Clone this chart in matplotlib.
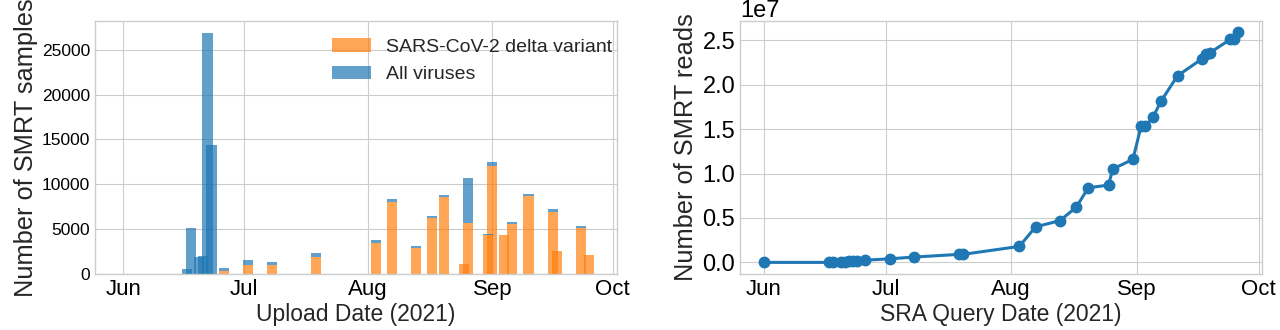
import pandas as pd
import matplotlib
matplotlib.use('Agg')
import matplotlib.pyplot as plt
import matplotlib.dates as mdates
from matplotlib.ticker import MultipleLocator

plt.style.use('seaborn-v0_8-whitegrid')
plt.rcParams['font.family'] = ['Liberation Sans', 'DejaVu Sans']

# Left panel: SMRT samples per upload date
upload_dates = ['2021-06-17', '2021-06-18', '2021-06-20', '2021-06-21', '2021-06-22',
                '2021-06-23', '2021-06-26', '2021-07-02', '2021-07-08', '2021-07-19',
                '2021-08-03', '2021-08-07', '2021-08-13', '2021-08-17', '2021-08-20',
                '2021-08-25', '2021-08-26', '2021-08-31', '2021-09-01', '2021-09-04',
                '2021-09-06', '2021-09-10', '2021-09-16', '2021-09-17', '2021-09-23',
                '2021-09-25']
delta_samples = [0, 0, 0, 0, 0,
                 0, 300, 950, 950, 1900,
                 3400, 8050, 2900, 6200, 8600,
                 1100, 5700, 4300, 12000, 4300,
                 5600, 8700, 6950, 2580, 5150,
                 2100]
all_samples = [600, 5100, 1900, 2050, 26900,
               14400, 700, 1550, 1350, 2300,
               3800, 8350, 3100, 6450, 8850,
               1100, 10700, 4450, 12500, 4350,
               5750, 8900, 7200, 2600, 5300,
               2100]

# Right panel: cumulative SMRT reads per SRA query date
query_dates = ['2021-06-01', '2021-06-17', '2021-06-18', '2021-06-20', '2021-06-21',
               '2021-06-22', '2021-06-23', '2021-06-24', '2021-06-26', '2021-07-02',
               '2021-07-08', '2021-07-19', '2021-07-20', '2021-08-03', '2021-08-07',
               '2021-08-13', '2021-08-17', '2021-08-20', '2021-08-25', '2021-08-26',
               '2021-08-31', '2021-09-02', '2021-09-03', '2021-09-05', '2021-09-07',
               '2021-09-11', '2021-09-17', '2021-09-18', '2021-09-19', '2021-09-24',
               '2021-09-25', '2021-09-26']
smrt_reads = [0.0, 0.0, 0.005, 0.01, 0.01,
              0.012, 0.013, 0.015, 0.025, 0.04,
              0.06, 0.09, 0.09, 0.18, 0.40,
              0.47, 0.62, 0.84, 0.87, 1.05,
              1.16, 1.53, 1.53, 1.64, 1.82,
              2.10, 2.29, 2.35, 2.36, 2.51,
              2.52, 2.59]
smrt_reads = [v * 1e7 for v in smrt_reads]

x_up = mdates.date2num(pd.to_datetime(upload_dates))
x_q = mdates.date2num(pd.to_datetime(query_dates))
others = [a - d for a, d in zip(all_samples, delta_samples)]

fig, (ax1, ax2) = plt.subplots(1, 2, figsize=(12.8, 3.3), dpi=100)
fig.subplots_adjust(left=0.0742, right=0.986, bottom=0.17, top=0.937, wspace=0.236)

ax1.bar(x_up, delta_samples, width=2.5, color='tab:orange', alpha=0.7,
        label='SARS-CoV-2 delta variant')
ax1.bar(x_up, others, width=2.5, bottom=delta_samples, color='tab:blue', alpha=0.7,
        label='All viruses')
ax1.set_xlim(mdates.date2num(pd.Timestamp('2021-05-24 23:00')),
             mdates.date2num(pd.Timestamp('2021-10-02 01:00')))
ax1.set_xlabel('Upload Date (2021)', fontsize=16.5, labelpad=2)
ax1.set_ylabel('Number of SMRT samples', fontsize=18.3, labelpad=3)
ax1.legend(loc='upper right', bbox_to_anchor=(1.025, 1.0), frameon=False, fontsize=14)
ax1.tick_params(axis='y', labelsize=12.5)

ax2.plot(x_q, smrt_reads, '-o', color='tab:blue', lw=2.2, ms=7.5)
ax2.set_xlabel('SRA Query Date (2021)', fontsize=16.5, labelpad=2)
ax2.set_ylabel('Number of SMRT reads', fontsize=18.3, labelpad=3)
ax2.yaxis.set_major_locator(MultipleLocator(5e6))
ax2.tick_params(axis='y', labelsize=17)
ax2.yaxis.get_offset_text().set_fontsize(17)

for ax in (ax1, ax2):
    ax.xaxis.set_major_locator(mdates.MonthLocator())
    ax.xaxis.set_major_formatter(mdates.DateFormatter('%b'))
    ax.tick_params(axis='x', labelsize=16)
    ax.tick_params(colors='black')

fig.savefig('out.png', dpi=100)
